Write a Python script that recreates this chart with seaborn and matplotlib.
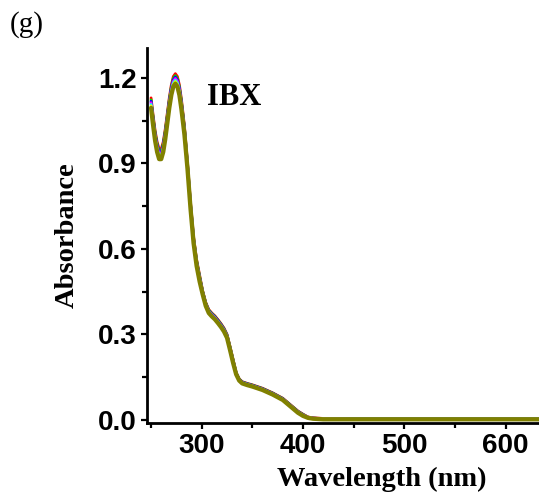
import matplotlib
matplotlib.use("Agg")
import matplotlib.pyplot as plt
from matplotlib.ticker import FixedLocator, MultipleLocator, FormatStrFormatter
import seaborn as sns
import pandas as pd

# Wavelength grid (nm) shared by all spectra
wavelength = [250, 252, 254, 256, 258, 260, 262, 264, 266, 268, 270, 272, 274, 276, 278, 280,
              283, 286, 289, 292, 295, 298, 301, 304, 307, 310, 313, 316, 319, 322, 325, 328,
              331, 334, 337, 340, 345, 350, 360, 370, 380, 390, 395, 400, 405, 410, 420, 450,
              500, 600, 700]

# Absorbance of the repeated IBX scans
abs_red = [1.130, 1.070, 1.015, 0.975, 0.950, 0.950, 0.975, 1.020, 1.075, 1.130, 1.175, 1.205,
           1.215, 1.205, 1.175, 1.125, 1.030, 0.902, 0.762, 0.642, 0.562, 0.507, 0.452, 0.412,
           0.387, 0.375, 0.365, 0.352, 0.338, 0.322, 0.300, 0.257, 0.212, 0.166, 0.144, 0.134,
           0.128, 0.123, 0.111, 0.095, 0.076, 0.046, 0.031, 0.020, 0.010, 0.007, 0.005, 0.004,
           0.004, 0.004, 0.004]
abs_green = [1.123, 1.063, 1.008, 0.968, 0.943, 0.943, 0.968, 1.013, 1.068, 1.123, 1.168, 1.198,
             1.208, 1.198, 1.168, 1.118, 1.024, 0.898, 0.758, 0.638, 0.558, 0.503, 0.450, 0.410,
             0.385, 0.373, 0.363, 0.350, 0.336, 0.320, 0.298, 0.255, 0.210, 0.165, 0.143, 0.133,
             0.127, 0.122, 0.110, 0.094, 0.075, 0.045, 0.030, 0.019, 0.009, 0.006, 0.004, 0.004,
             0.004, 0.004, 0.004]
abs_blue = [1.118, 1.058, 1.003, 0.963, 0.938, 0.938, 0.963, 1.008, 1.063, 1.118, 1.163, 1.193,
            1.203, 1.193, 1.163, 1.113, 1.020, 0.894, 0.754, 0.634, 0.554, 0.499, 0.448, 0.408,
            0.383, 0.371, 0.361, 0.348, 0.334, 0.318, 0.296, 0.253, 0.208, 0.164, 0.142, 0.132,
            0.126, 0.121, 0.109, 0.093, 0.074, 0.044, 0.029, 0.018, 0.009, 0.006, 0.004, 0.003,
            0.003, 0.003, 0.003]
abs_magenta = [1.113, 1.053, 0.998, 0.958, 0.933, 0.933, 0.958, 1.003, 1.058, 1.113, 1.158, 1.188,
               1.198, 1.188, 1.158, 1.108, 1.015, 0.891, 0.751, 0.631, 0.551, 0.496, 0.446, 0.406,
               0.381, 0.369, 0.359, 0.346, 0.332, 0.316, 0.294, 0.251, 0.206, 0.163, 0.141, 0.131,
               0.125, 0.120, 0.108, 0.092, 0.073, 0.043, 0.028, 0.017, 0.009, 0.006, 0.004, 0.003,
               0.003, 0.003, 0.003]
abs_cyan = [1.107, 1.047, 0.992, 0.952, 0.927, 0.927, 0.952, 0.997, 1.052, 1.107, 1.152, 1.182,
            1.192, 1.182, 1.152, 1.102, 1.011, 0.888, 0.748, 0.628, 0.548, 0.493, 0.444, 0.404,
            0.379, 0.367, 0.357, 0.344, 0.330, 0.314, 0.292, 0.249, 0.204, 0.162, 0.140, 0.130,
            0.124, 0.119, 0.107, 0.091, 0.072, 0.042, 0.027, 0.016, 0.008, 0.005, 0.003, 0.003,
            0.003, 0.003, 0.003]
abs_yellow = [1.102, 1.042, 0.987, 0.947, 0.922, 0.922, 0.947, 0.992, 1.047, 1.102, 1.147, 1.177,
              1.187, 1.177, 1.147, 1.097, 1.006, 0.884, 0.744, 0.624, 0.544, 0.489, 0.442, 0.402,
              0.377, 0.365, 0.355, 0.342, 0.328, 0.312, 0.290, 0.247, 0.202, 0.161, 0.139, 0.129,
              0.123, 0.118, 0.106, 0.090, 0.071, 0.041, 0.026, 0.015, 0.008, 0.005, 0.003, 0.002,
              0.002, 0.002, 0.002]
abs_olive = [1.095, 1.035, 0.980, 0.940, 0.915, 0.915, 0.940, 0.985, 1.040, 1.095, 1.140, 1.170,
             1.180, 1.170, 1.140, 1.090, 1.000, 0.880, 0.740, 0.620, 0.540, 0.485, 0.440, 0.400,
             0.375, 0.363, 0.353, 0.340, 0.326, 0.310, 0.288, 0.245, 0.200, 0.160, 0.138, 0.128,
             0.122, 0.117, 0.105, 0.089, 0.070, 0.040, 0.025, 0.014, 0.007, 0.004, 0.002, 0.002,
             0.002, 0.002, 0.002]

series_names = ["red", "green", "blue", "magenta", "cyan", "yellow", "olive"]
series_values = [abs_red, abs_green, abs_blue, abs_magenta, abs_cyan, abs_yellow, abs_olive]
series_colors = ["#FF0000", "#00E000", "#0000FF", "#FF00FF", "#00FFFF", "#FFFF00", "#808000"]

x_major = [300, 400, 500, 600]
y_major = [0.0, 0.3, 0.6, 0.9, 1.2]

frames = [pd.DataFrame({"Wavelength": wavelength, "Absorbance": vals, "scan": name})
          for name, vals in zip(series_names, series_values)]
df = pd.concat(frames, ignore_index=True)

sns.set_style("ticks", {"axes.edgecolor": "black", "text.color": "black",
                        "axes.labelcolor": "black", "xtick.color": "black",
                        "ytick.color": "black"})
serif = ["Liberation Serif", "DejaVu Serif"]
sans = ["Liberation Sans", "DejaVu Sans"]

W, H = 539, 494
fig = plt.figure(figsize=(W / 100, H / 100), dpi=100)
# axes run past the right edge of the canvas
left, right, top, bottom = 147, 617, 48, 423
ax = fig.add_axes([left / W, (H - bottom) / H, (right - left) / W, (bottom - top) / H])

sns.lineplot(data=df, x="Wavelength", y="Absorbance", hue="scan",
             palette=dict(zip(series_names, series_colors)), hue_order=series_names,
             legend=False, sort=False, ax=ax, linewidth=2.0)
for line in ax.lines:
    line.set_solid_capstyle("round")
ax.lines[-1].set_linewidth(3.1)

ax.set_xlim(246, 710)
ax.set_ylim(-0.011, 1.305)
ax.xaxis.set_major_locator(FixedLocator(x_major))
ax.xaxis.set_minor_locator(MultipleLocator(50))
ax.yaxis.set_major_locator(FixedLocator(y_major))
ax.yaxis.set_minor_locator(MultipleLocator(0.15))
ax.yaxis.set_major_formatter(FormatStrFormatter("%.1f"))

sns.despine(ax=ax)
for s in ("left", "bottom"):
    ax.spines[s].set_linewidth(2.0)
    ax.spines[s].set_color("black")
ax.tick_params(which="major", direction="out", length=4.5, width=1.6, pad=3,
               labelsize=20, colors="black")
ax.tick_params(which="minor", direction="out", length=3.5, width=1.6, colors="black")
for lbl in ax.get_xticklabels() + ax.get_yticklabels():
    lbl.set_family(sans)
    lbl.set_fontweight("bold")

ax.set_xlabel("Wavelength (nm)", family=serif, fontweight="bold", fontsize=20.5,
              labelpad=5, color="black")
ax.set_ylabel("Absorbance", family=serif, fontweight="bold", fontsize=20.5,
              labelpad=13, color="black")

ax.text(305, 1.105, "IBX", family=serif, fontweight="bold", fontsize=22, va="baseline",
        color="black")
fig.text(10 / W, 1 - 11 / H, "(g)", family=serif, fontsize=21, va="top", ha="left",
         color="black")

fig.savefig("out.png", dpi=100)
